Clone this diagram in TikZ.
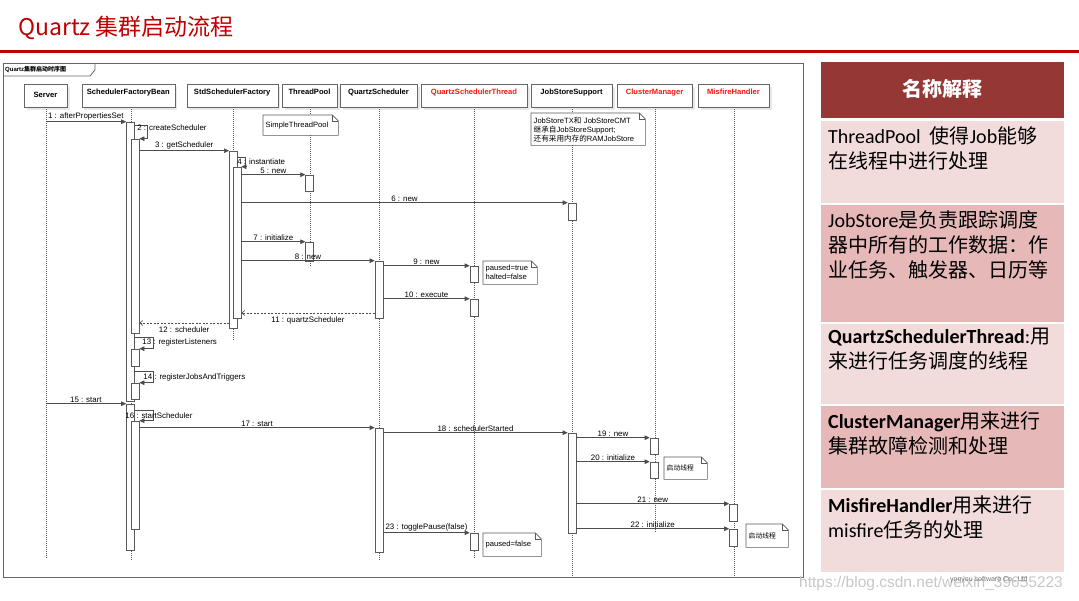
\documentclass[tikz,border=0pt]{standalone}
\usepackage{fontspec}
\setmainfont{Liberation Sans}
\newfontfamily\cjk{Noto Sans CJK SC}
\newfontfamily\calib{Carlito}
\usetikzlibrary{arrows.meta,shadows}
\definecolor{titlered}{RGB}{192,0,0}
\definecolor{namered}{RGB}{250,20,20}
\definecolor{hdrred}{RGB}{149,55,53}
\definecolor{rowlight}{RGB}{242,220,219}
\definecolor{rowdark}{RGB}{230,185,184}
\begin{document}
\begin{tikzpicture}[x=1pt, y=-1pt,
    head/.style={draw=black!60, fill=white, minimum height=23pt, inner sep=1pt, text depth=8pt,
        font=\fontsize{7.6}{8}\selectfont\bfseries,
        drop shadow={shadow xshift=2.5pt, shadow yshift=-2.5pt, fill=black!9, opacity=1}},
    lifeline/.style={draw=black!65, line width=0.6pt, dash pattern=on 1pt off 1pt},
    actbar/.style={draw=black!65, fill=white, line width=0.6pt, minimum width=8pt, inner sep=0pt},
    msg/.style={draw=black!70, line width=0.6pt, -{Triangle[length=5pt,width=4.5pt]}},
    reply/.style={draw=black!70, line width=0.6pt, dash pattern=on 2pt off 1.5pt, -{Straight Barb[length=3pt,width=5pt]}},
    lbl/.style={font=\fontsize{7.9}{9}\selectfont, inner sep=1.2pt},
    notebox/.style={anchor=north west, fill=white, inner sep=2.5pt, align=left, font=\fontsize{7.6}{9}\selectfont},
    noteline/.style={draw=black!65, line width=0.6pt},
    rowtxt/.style={anchor=north west, inner sep=0pt, align=left, font=\calib\fontsize{20}{25}\selectfont}
]
    \useasboundingbox (0,0) rectangle (1079,600);

    % Title and red rule
    \node[anchor=base west, inner sep=0pt, font=\cjk\fontsize{23}{27}\selectfont, text=titlered] (title) at (18,35) {Quartz 集群启动流程};
    \fill[titlered] (0,50) rectangle (1079,52.5);

    % Frame with tab
    \draw[draw=black!60, line width=0.8pt] (3,63) rectangle (803,577);
    \draw[draw=black!60, line width=0.8pt] (3,76) -- (90,76) -- (95,70) -- (95,63);
    \node[anchor=west, inner sep=0pt, font=\fontsize{6}{7}\selectfont\bfseries] (tab) at (5,69.5) {Quartz{\cjk 集群启动时序图}};

    % Lifeline heads
    \node[head, text depth=2pt, minimum width=43pt] (hSrv) at (45.5,95.5) {Server};
    \node[head, minimum width=93pt] (hSFB) at (128.3,95.5) {SchedulerFactoryBean};
    \node[head, minimum width=91pt] (hStd) at (232.2,95.5) {StdSchedulerFactory};
    \node[head, minimum width=55pt] (hTP) at (309.5,95.5) {ThreadPool};
    \node[head, minimum width=77pt] (hQS) at (378.5,95.5) {QuartzScheduler};
    \node[head, minimum width=106pt, text=namered] (hQST) at (474,95.5) {QuartzSchedulerThread};
    \node[head, minimum width=81pt] (hJSS) at (571.5,95.5) {JobStoreSupport};
    \node[head, minimum width=75pt, text=namered] (hCM) at (654.5,95.5) {ClusterManager};
    \node[head, minimum width=71pt, text=namered] (hMH) at (733.5,95.5) {MisfireHandler};

    % Lifelines
    \foreach \hd/\xx/\ye in {hSrv/46/558, hSFB/131.5/561, hStd/233/340, hTP/310/267, hQS/379/561,
                            hQST/474.5/558, hJSS/572/577, hCM/655/532, hMH/734/577} {
        \draw[lifeline] (\hd.south -| \xx,0) -- (\xx,\ye);
    }

    % Notes
    \node[notebox, text width=70pt, minimum height=20pt] (nSTP) at (263,115) {SimpleThreadPool};
    \node[notebox, text width=109pt, minimum height=32pt] (nJS) at (531,113) {JobStoreTX{\cjk 和} JobStoreCMT\\{\cjk 继承自}JobStoreSupport;\\{\cjk 还有采用内存的}RAMJobStore};
    \node[notebox, text width=49pt, minimum height=23pt] (nPT) at (483,261) {paused=true\\halted=false};
    \node[notebox, text width=38pt, minimum height=22pt, font=\cjk\fontsize{6.8}{8}\selectfont] (nCM) at (664,457) {启动线程};
    \node[notebox, text width=53pt, minimum height=23pt] (nPF) at (483,533) {paused=false};
    \node[notebox, text width=37pt, minimum height=23pt, font=\cjk\fontsize{6.8}{8}\selectfont] (nMH) at (746,524) {启动线程};
    \foreach \n in {nSTP, nJS, nPT, nCM, nPF, nMH} {
        \draw[noteline] (\n.south west) -- (\n.north west) -- ([xshift=-6pt]\n.north east)
            -- ([yshift=-6pt]\n.north east) -- (\n.south east) -- cycle;
        \draw[noteline] ([xshift=-6pt]\n.north east) |- ([yshift=-6pt]\n.north east);
    }

    % Activation bars
    \foreach \nm/\xx/\ya/\yb in {sfbA/130.5/122/401, sfbB/130.5/404/550, sfbC/135/139/333, sfbD/135/349/366,
                                 sfbE/135/383/399, sfbF/135/421/529, stdA/233.3/151/328, stdB/237/167/318,
                                 tpA/309.7/175/191, tpB/309.7/242/261, qsA/379/261/318, qsB/379/428/552,
                                 qstA/474/266/282, qstB/474/299/316, qstC/474/533/550, jssA/572/203/220,
                                 jssB/572/433/533, cmA/654/438/454, cmB/654/462/478, mhA/733.5/504/521,
                                 mhB/733.5/529/546} {
        \node[actbar, minimum height={(\yb-\ya)*1pt}] (\nm) at (\xx,{(\ya+\yb)/2}) {};
    }

    % Messages
    \draw[msg] (hSrv |- sfbA.north) -- (sfbA.north west) node[lbl, midway, above] {1 : afterPropertiesSet};
    \draw[msg] (sfbA.east |- 0,125) -- ++(12,0) |- (sfbC.north east);
    \node[lbl, anchor=west] (l2) at (136,127.5) {2 : createScheduler};
    \draw[msg] (sfbC.east |- stdA.north) -- (stdA.north west) node[lbl, midway, above] {3 : getScheduler};
    \draw[msg] (stdA.east |- 0,157) -- ++(8,0) |- (stdB.north east);
    \node[lbl, anchor=west] (l4) at (236,162) {4 : instantiate};
    \draw[msg] (stdB.east |- tpA.north) -- (tpA.north west) node[lbl, midway, above] {5 : new};
    \draw[msg] (stdB.east |- jssA.north) -- (jssA.north west) node[lbl, midway, above] {6 : new};
    \draw[msg] (stdB.east |- tpB.north) -- (tpB.north west) node[lbl, midway, above] {7 : initialize};
    \draw[msg] (stdB.east |- qsA.north) -- (qsA.north west) node[lbl, midway, above] {8 : new};
    \draw[msg] (qsA.east |- qstA.north) -- (qstA.north west) node[lbl, midway, above] {9 : new};
    \draw[msg] (qsA.east |- qstB.north) -- (qstB.north west) node[lbl, midway, above] {10 : execute};
    \draw[reply] (qsA.west |- 0,313) -- (stdB.east |- 0,313) node[lbl, midway, below, inner sep=3pt] {11 : quartzScheduler};
    \draw[reply] (stdA.west |- 0,323) -- (sfbC.east |- 0,323) node[lbl, midway, below, inner sep=3pt] {12 : scheduler};
    \draw[msg] (sfbA.east |- 0,337) -- ++(18,0) |- (sfbD.north east);
    \node[lbl, anchor=west] (l13) at (141,342) {13 : registerListeners};
    \draw[msg] (sfbA.east |- 0,371) -- ++(18,0) |- (sfbE.north east);
    \node[lbl, anchor=west] (l14) at (142,377) {14 : registerJobsAndTriggers};
    \draw[msg] (hSrv |- sfbB.north) -- (sfbB.north west) node[lbl, midway, above] {15 : start};
    \draw[msg] (sfbB.east |- 0,410) -- ++(18,0) |- (sfbF.north east);
    \node[lbl, anchor=west] (l16) at (124,416) {16 : startScheduler};
    \draw[msg] (sfbF.east |- qsB.north) -- (qsB.north west) node[lbl, midway, above] {17 : start};
    \draw[msg] (qsB.east |- jssB.north) -- (jssB.north west) node[lbl, midway, above] {18 : schedulerStarted};
    \draw[msg] (jssB.east |- cmA.north) -- (cmA.north west) node[lbl, midway, above] {19 : new};
    \draw[msg] (jssB.east |- cmB.north) -- (cmB.north west) node[lbl, midway, above] {20 : initialize};
    \draw[msg] (jssB.east |- mhA.north) -- (mhA.north west) node[lbl, midway, above] {21 : new};
    \draw[msg] (jssB.east |- mhB.north) -- (mhB.north west) node[lbl, midway, above] {22 : initialize};
    \draw[msg] (qsB.east |- qstC.north) -- (qstC.north west) node[lbl, midway, above] {23 : togglePause(false)};

    % Glossary panel
    \fill[hdrred] (821,62) rectangle (1064,118);
    \node[font=\cjk\bfseries\fontsize{20}{24}\selectfont, text=white] (gloss) at (942.5,89) {名称解释};
    \fill[rowlight] (821,121) rectangle (1064,203);
    \fill[rowdark] (821,205) rectangle (1064,322);
    \fill[rowlight] (821,323.5) rectangle (1064,404);
    \fill[rowdark] (821,406) rectangle (1064,488);
    \fill[rowlight] (821,490) rectangle (1064,572);
    \node[rowtxt] (g1) at (828,126) {ThreadPool\ \ {\cjk 使得}Job{\cjk 能够}\\{\cjk 在线程中进行处理}};
    \node[rowtxt] (g2) at (828,210) {JobStore{\cjk 是负责跟踪调度}\\{\cjk 器中所有的工作数据：作}\\{\cjk 业任务、触发器、日历等}};
    \node[rowtxt] (g3) at (828,328) {{\bfseries QuartzSchedulerThread}:{\cjk 用}\\{\cjk 来进行任务调度的线程}};
    \node[rowtxt] (g4) at (828,411) {{\bfseries ClusterManager}{\cjk 用来进行}\\{\cjk 集群故障检测和处理}};
    \node[rowtxt] (g5) at (828,495) {{\bfseries MisfireHandler}{\cjk 用来进行}\\misfire{\cjk 任务的处理}};

    % Watermark
    \node[anchor=base west, inner sep=0pt, font=\fontsize{15.5}{17}\selectfont, text=black!22] (wm) at (799,587) {https://blog.csdn.net/weixin\_39655223};
    \node[anchor=base west, inner sep=0pt, font=\fontsize{7}{8}\selectfont, text=black!55] (corp) at (950,581) {yonyou software Co., Ltd};
\end{tikzpicture}
\end{document}
